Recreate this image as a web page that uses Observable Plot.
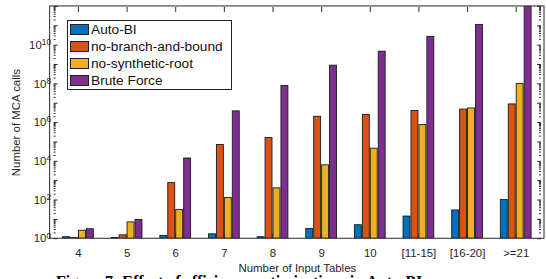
<!DOCTYPE html>
<html><head><meta charset="utf-8">
<script src="https://cdn.jsdelivr.net/npm/d3@7"></script>
<script src="https://cdn.jsdelivr.net/npm/@observablehq/plot@0.6"></script>
<style>
html,body{margin:0;padding:0;background:#fff;overflow:hidden;}
#wrap{position:relative;width:546px;height:279px;overflow:hidden;font-family:"Liberation Sans",Arial,sans-serif;}
#legend{position:absolute;left:67px;top:20px;width:163px;border:1px solid #222;background:#fff;}
.item{height:17px;display:flex;align-items:center;font-size:13.7px;color:#111;white-space:nowrap;}
.sw{width:17px;height:9px;border:1px solid #222;margin-left:2px;margin-right:2px;flex:none;}
#caption{position:absolute;left:56px;top:273px;font:bold 16px "Liberation Serif",serif;white-space:nowrap;color:#000;}
</style></head><body><div id="wrap"></div>
<script>
const categories = ["4","5","6","7","8","9","10","[11-15]","[16-20]",">=21"];
const seriesNames = ["Auto-BI","no-branch-and-bound","no-synthetic-root","Brute Force"];
const seriesColors = ["#0072BD","#D95319","#EDB120","#7E2F8E"];
const autoBI = [1.2, 1.1, 1.4, 1.7, 1.2, 3.2, 5, 14, 29, 100];
const noBranchAndBound = [1.08, 1.5, 750, 7e4, 1.6e5, 2e6, 2.5e6, 4e6, 4.7e6, 8.7e6];
const noSyntheticRoot = [2.6, 7, 31, 128, 400, 6200, 4.5e4, 7.4e5, 5.4e6, 1e8];
const bruteForce = [3.1, 9.3, 1.4e4, 3.8e6, 7.8e7, 8.7e8, 4.6e9, 2.7e10, 1.1e11, 1e13];
const yTickLabels = [1, 1e2, 1e4, 1e6, 1e8, 1e10];
const yLabel = "Number of MCA calls";
const xLabel = "Number of Input Tables";
const captionText = "Figure 7: Effect of efficiency optimizations in Auto-BI.";

const seriesValues = [autoBI, noBranchAndBound, noSyntheticRoot, bruteForce];
const table = categories.flatMap((c, i) => seriesNames.map((s, j) => ({category: c, series: s, value: seriesValues[j][i]})));
const decades = d3.range(0, 13).map(k => 10 ** k);
const minor = d3.range(0, 12).flatMap(k => d3.range(2, 10).map(m => m * 10 ** k));

const W = 550, H = 274, ML = 50, MR = 2, MT = 6, MB = 34;
const chart = Plot.plot({
  width: W, height: H,
  marginLeft: ML, marginRight: MR, marginTop: MT, marginBottom: MB,
  style: {fontFamily: "Liberation Sans, Arial, sans-serif", fontSize: "11.5px", color: "#262626", background: "white", overflow: "visible"},
  fx: {domain: categories, padding: 0, paddingInner: 0, paddingOuter: 0},
  x: {domain: seriesNames, paddingInner: 0.15, paddingOuter: 0.81, axis: null},
  y: {type: "log", domain: [1, 1e12]},
  color: {domain: seriesNames, range: seriesColors},
  marks: [
    Plot.axisFx({anchor: "bottom", tickSize: -5, tickFormat: () => "", label: null}),
    Plot.barY(table, {fx: "category", x: "series", y1: 1, y2: "value", fill: "series", stroke: "#1a1a1a", strokeWidth: 0.9, clip: true}),
    Plot.axisY(decades, {anchor: "left", tickSize: -4, tickFormat: () => "", label: null}),
    Plot.axisY(minor, {anchor: "left", tickSize: -2, tickFormat: () => "", label: null}),
    Plot.axisY(decades, {anchor: "right", tickSize: -4, tickFormat: () => "", label: null}),
    Plot.axisY(minor, {anchor: "right", tickSize: -2, tickFormat: () => "", label: null}),
    Plot.axisY(yTickLabels, {anchor: "left", tickSize: 0, tickPadding: 3, tickFormat: d => String(Math.round(Math.log10(d))), label: yLabel, labelArrow: "none", labelAnchor: "center", labelOffset: 43}),
    Plot.axisFx({anchor: "top", tickSize: -5, tickFormat: () => "", label: null}),
    Plot.axisFx({anchor: "bottom", tickSize: 0, tickPadding: 10, label: xLabel, labelArrow: "none", labelAnchor: "center", labelOffset: 33})
  ]
});

const svg = d3.select(chart);
svg.selectAll('g[aria-label="y-axis tick label"] text').each(function() {
  const t = this.textContent;
  if (t === "") return;
  const el = d3.select(this);
  el.text("");
  el.append("tspan").text("10");
  el.append("tspan").attr("dy", "-0.45em").attr("font-size", "8.5px").text(t);
});
svg.append("rect").attr("x", ML).attr("y", MT).attr("width", W - ML - MR).attr("height", H - MT - MB)
  .attr("fill", "none").attr("stroke", "#262626").attr("stroke-width", 1);

const wrap = document.getElementById("wrap");
wrap.appendChild(chart);
const legend = document.createElement("div");
legend.id = "legend";
seriesNames.forEach((s, i) => {
  const it = document.createElement("div");
  it.className = "item";
  const sw = document.createElement("span");
  sw.className = "sw";
  sw.style.background = seriesColors[i];
  it.appendChild(sw);
  it.appendChild(document.createTextNode(s));
  legend.appendChild(it);
});
wrap.appendChild(legend);
const cap = document.createElement("div");
cap.id = "caption";
cap.textContent = captionText;
wrap.appendChild(cap);
</script>
</body></html>
